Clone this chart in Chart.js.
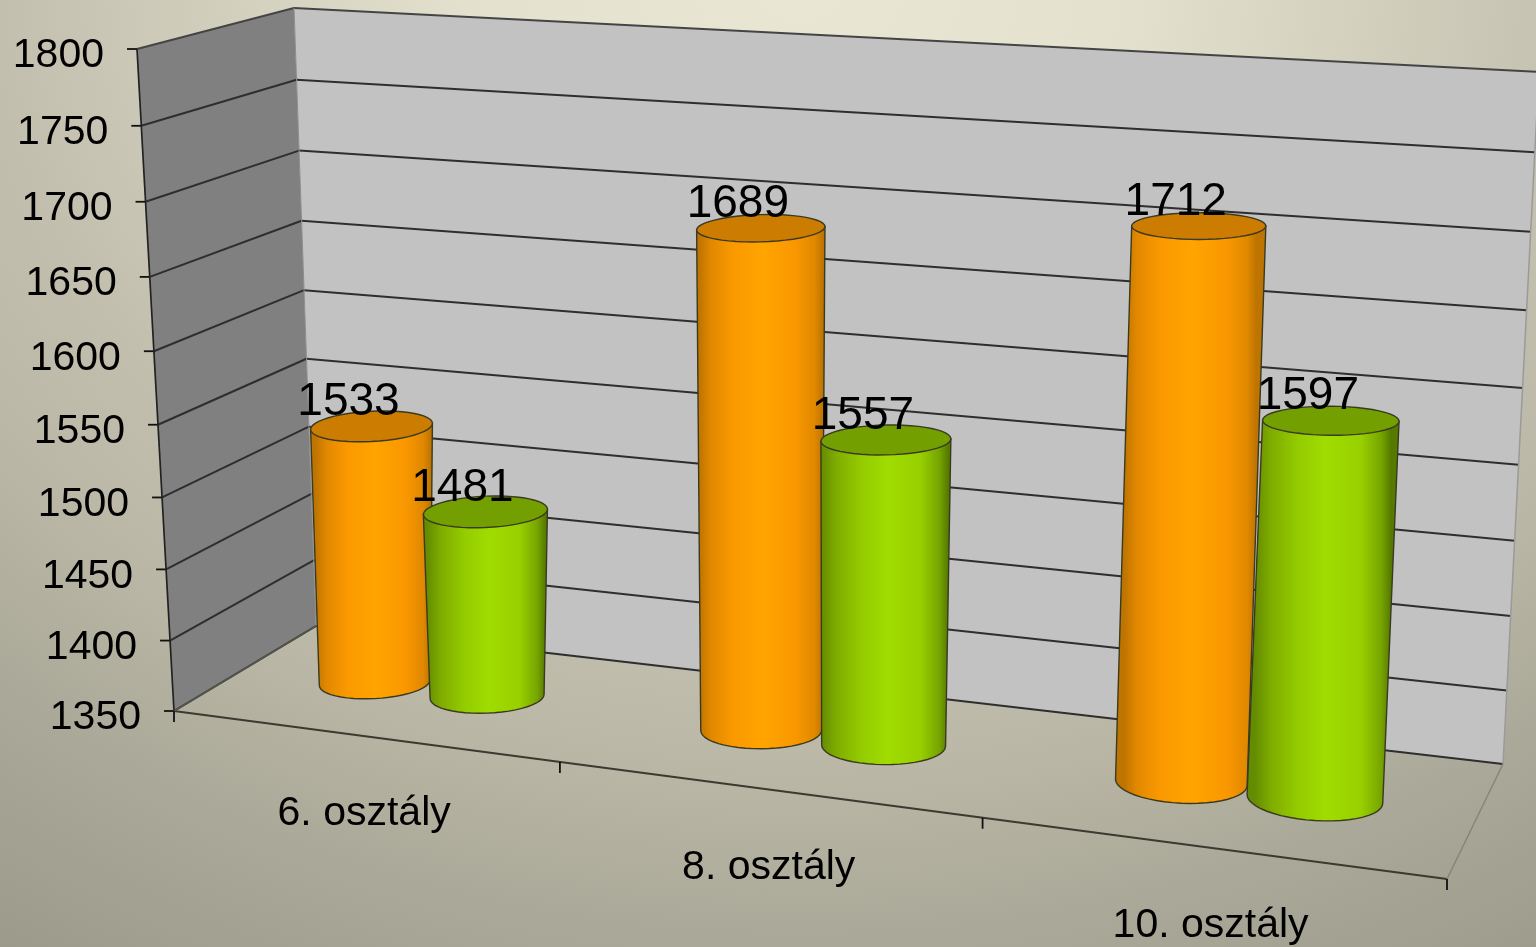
<!DOCTYPE html>
<html>
<head>
<meta charset="utf-8">
<title>osztály</title>
<script src="https://cdn.jsdelivr.net/npm/chart.js@4/dist/chart.umd.min.js"></script>
<style>
  html, body { margin: 0; padding: 0; overflow: hidden; }
  body {
    width: 1536px; height: 947px;
    background: radial-gradient(ellipse 1600px 1300px at 800px -20px, #e9e6d4 0%, #e4e1cf 20%, #c2bfae 50%, #bbb8a7 60%, #aaa898 74%, #9c9a8a 90%, #918f7f 100%);
  }
  canvas { display: block; }
</style>
</head>
<body>
<canvas id="chart" width="1536" height="947"></canvas>
<script>
var categories = ['6. osztály', '8. osztály', '10. osztály'];
var orangeValues = [1533, 1689, 1712];
var greenValues = [1481, 1557, 1597];
var axisMin = 1350;
var axisMax = 1800;
var axisStep = 50;

// corners of the 3D box, as seen in the picture
var floorQuad = [[174, 711], [1447, 879], [1503, 764], [316, 626]];
var ceilQuad = [[137, 49], [1492, 150], [1539, 72], [294, 8]];

function makeHomography(q) {
  let dx1 = q[1][0] - q[2][0], dx2 = q[3][0] - q[2][0], sx = q[0][0] - q[1][0] + q[2][0] - q[3][0];
  let dy1 = q[1][1] - q[2][1], dy2 = q[3][1] - q[2][1], sy = q[0][1] - q[1][1] + q[2][1] - q[3][1];
  let den = dx1 * dy2 - dx2 * dy1;
  let g = (sx * dy2 - dx2 * sy) / den;
  let h = (dx1 * sy - sx * dy1) / den;
  let a = q[1][0] - q[0][0] + g * q[1][0], b = q[3][0] - q[0][0] + h * q[3][0], c = q[0][0];
  let d = q[1][1] - q[0][1] + g * q[1][1], e = q[3][1] - q[0][1] + h * q[3][1], f = q[0][1];
  return function (u, v) {
    let w = g * u + h * v + 1;
    return [(a * u + b * v + c) / w, (d * u + e * v + f) / w];
  };
}
var floorMap = makeHomography(floorQuad);
var ceilMap = makeHomography(ceilQuad);

// u: along categories, depth: 0 front .. 1 back, v: 0 axis min .. 1 axis max
function project(u, depth, v) {
  let w = u + 0.0105 * Math.sin(Math.PI * u);
  let p0 = floorMap(w, depth);
  let p1 = ceilMap(w, depth);
  let k = v / (v + (1 - v) * 1.05);
  return [p0[0] + (p1[0] - p0[0]) * k, p0[1] + (p1[1] - p0[1]) * k];
}

function line(ctx, a, b, color, width) {
  ctx.strokeStyle = color;
  ctx.lineWidth = width;
  ctx.beginPath();
  ctx.moveTo(a[0], a[1]);
  ctx.lineTo(b[0], b[1]);
  ctx.stroke();
}

function polygon(ctx, pts) {
  ctx.beginPath();
  pts.forEach(function (p, i) {
    if (i == 0) ctx.moveTo(p[0], p[1]);
    else ctx.lineTo(p[0], p[1]);
  });
  ctx.closePath();
}

function ring(cx, cy, rx, ry, tilt) {
  let pts = [];
  for (let i = 0; i <= 48; i++) {
    let t = Math.PI * 2 * i / 48;
    pts.push([cx + rx * Math.cos(t), cy + ry * Math.sin(t) + tilt * rx * Math.cos(t)]);
  }
  return pts;
}

// returns the centre of the top face, the value label hangs off it
function drawCylinder(ctx, u, ru, v, style) {
  let depth = 0.5;
  let base = project(u, depth, 0);
  let rx = (project(u + ru, depth, 0)[0] - project(u - ru, depth, 0)[0]) / 2;
  let cap = project(u, depth, v);
  let lean = (base[0] < 790 ? 3e-5 : 8e-5) * (base[0] - 790);
  cap[0] = base[0] + lean * (base[1] - cap[1]);

  let bottom = ring(base[0], base[1], rx, 16 + 0.006 * (base[0] - 372), (base[0] - 800) * 1.2e-4);
  let topRx = rx * (1.1 - (base[0] - 372) * 1e-4);
  let top = ring(cap[0], cap[1], topRx, 17 - 4.5 * v, (cap[0] - 1200) * 6e-5);

  let body = [top[24]];
  for (let i = 24; i >= 0; i--) body.push(bottom[i]);
  body.push(top[0]);

  let gy = (cap[1] + base[1]) / 2;
  let grad = ctx.createLinearGradient((top[24][0] + bottom[24][0]) / 2, gy, (top[0][0] + bottom[0][0]) / 2, gy);
  style.body.forEach(function (s) { grad.addColorStop(s[0], s[1]); });

  polygon(ctx, body);
  ctx.fillStyle = grad;
  ctx.fill();
  ctx.strokeStyle = '#3a3a20';
  ctx.lineWidth = 1.4;
  ctx.stroke();

  polygon(ctx, top);
  ctx.fillStyle = style.cap;
  ctx.fill();
  ctx.stroke();
  return cap;
}

var orangeStyle = {
  cap: '#cc7c00',
  body: [[0, '#bd7400'], [0.1, '#e28800'], [0.28, '#fb9900'], [0.52, '#ffa400'], [0.78, '#f99700'], [0.93, '#e08800'], [1, '#bd7400']]
};
var greenStyle = {
  cap: '#739f00',
  body: [[0, '#648c00'], [0.12, '#80ac00'], [0.32, '#94cc00'], [0.52, '#a0dc00'], [0.78, '#98d000'], [0.93, '#76a400'], [1, '#557a00']]
};

var box3d = {
  id: 'box3d',
  beforeDatasetsDraw: function (chart) {
    let ctx = chart.ctx;
    let y = chart.scales.y;
    let area = chart.chartArea;
    ctx.save();

    // walls
    polygon(ctx, [project(0, 0, 0), project(0, 1, 0), project(0, 1, 1), project(0, 0, 1)]);
    ctx.fillStyle = '#808080';
    ctx.fill();
    polygon(ctx, [project(0, 1, 0), project(1, 1, 0), project(1, 1, 1), project(0, 1, 1)]);
    ctx.fillStyle = '#c2c2c2';
    ctx.fill();

    // gridlines, ticks and value axis
    ctx.font = '41px "Liberation Sans"';
    ctx.fillStyle = '#000';
    ctx.textAlign = 'right';
    ctx.textBaseline = 'middle';
    y.ticks.forEach(function (tick) {
      let v = (area.bottom - y.getPixelForValue(tick.value)) / area.height;
      let front = project(0, 0, v);
      let back = project(0, 1, v);
      let right = project(1, 1, v);
      let c = (tick.value == axisMax) ? '#444' : '#2e2e2e';
      line(ctx, front, back, c, 2);
      line(ctx, back, right, c, 2);
      line(ctx, [front[0] - 10, front[1]], front, '#111', 1.8);
      ctx.fillText(String(tick.value), front[0] - 33, front[1] + 7);
    });

    line(ctx, project(0, 0, 0), project(0, 0, 1), '#222', 1.7);
    line(ctx, project(0, 1, 0), project(0, 1, 1), '#8c8c8c', 1);
    line(ctx, project(1, 1, 0), project(1, 1, 1), '#9a9a9a', 1.5);

    // floor
    line(ctx, project(0, 0, 0), project(1, 0, 0), '#3a3a30', 2);
    line(ctx, project(0, 0, 0), project(0, 1, 0), '#55554c', 1.6);
    line(ctx, project(1, 0, 0), project(1, 1, 0), '#85857c', 1.5);

    // category ticks and labels
    let x = chart.scales.x;
    for (let i = 0; i <= categories.length; i++) {
      let p = project(i / categories.length, 0, 0);
      line(ctx, p, [p[0], p[1] + 11], '#111', 1.8);
    }
    ctx.textAlign = 'center';
    categories.forEach(function (name, i) {
      let u = (x.getPixelForValue(i) - area.left) / area.width;
      let p = project(u, 0, 0);
      ctx.fillText(name, p[0] + 2, p[1] + 78);
    });
    ctx.restore();
  },
  afterDatasetsDraw: function (chart) {
    let ctx = chart.ctx;
    let area = chart.chartArea;
    let styles = [orangeStyle, greenStyle];
    let tops = [];
    ctx.save();
    categories.forEach(function (name, i) {
      chart.data.datasets.forEach(function (ds, j) {
        let bar = chart.getDatasetMeta(j).data[i];
        let u = (bar.x - area.left) / area.width;
        let ru = bar.width / 2 / area.width;
        let v = (area.bottom - bar.y) / area.height;
        tops.push({ p: drawCylinder(ctx, u, ru, v, styles[j]), value: ds.data[i] });
      });
    });
    ctx.font = '46px "Liberation Sans"';
    ctx.fillStyle = '#000';
    ctx.textAlign = 'center';
    ctx.textBaseline = 'middle';
    tops.forEach(function (t) {
      ctx.fillText(String(t.value), t.p[0] - 23, t.p[1] - 24);
    });
    ctx.restore();
  }
};

new Chart(document.getElementById('chart').getContext('2d'), {
  type: 'bar',
  data: {
    labels: categories,
    datasets: [
      { label: 'Series 1', data: orangeValues, backgroundColor: 'transparent', borderWidth: 0 },
      { label: 'Series 2', data: greenValues, backgroundColor: 'transparent', borderWidth: 0 }
    ]
  },
  options: {
    responsive: false,
    animation: false,
    categoryPercentage: 0.6,
    barPercentage: 1.0,
    layout: { padding: 0 },
    plugins: { legend: { display: false }, tooltip: { enabled: false } },
    scales: {
      x: { display: false },
      y: { display: false, min: axisMin, max: axisMax, ticks: { stepSize: axisStep } }
    }
  },
  plugins: [box3d]
});
</script>
</body>
</html>
